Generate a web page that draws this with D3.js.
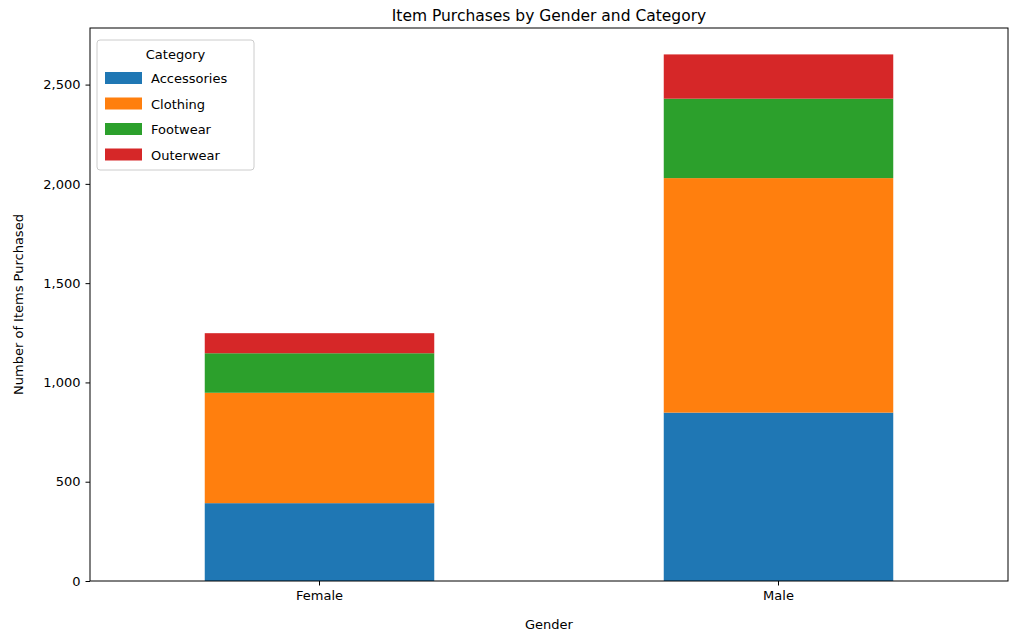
<!DOCTYPE html>
<html><head><meta charset="utf-8">
<script src="https://cdn.jsdelivr.net/npm/d3@7"></script>
<style>body{margin:0;background:#fff;font-family:"DejaVu Sans",sans-serif;}</style>
</head><body><svg id="c" width="1024" height="643"></svg>
<script>
const genders = ["Female","Male"];
const categories = ["Accessories","Clothing","Footwear","Outerwear"];
const accessories = [392, 848];
const clothing = [556, 1181];
const footwear = [199, 400];
const outerwear = [101, 223];
const yTicks = [0,500,1000,1500,2000,2500];
const colors = ["#1f77b4","#ff7f0e","#2ca02c","#d62728"];

const series = [accessories, clothing, footwear, outerwear];
const rows = genders.map((g,i)=>{const r={gender:g}; categories.forEach((c,j)=>r[c]=series[j][i]); return r;});
const stack = d3.stack().keys(categories)(rows);

const svg = d3.select("#c");
const L=90,R=1008,T=28,B=581;
const x = d3.scaleBand().domain(genders).range([L,R]).paddingInner(0.5).paddingOuter(0.25);
const y = d3.scaleLinear().domain([0,2785]).range([B,T]);

stack.forEach((s,j)=>{
  svg.append("g").attr("fill",colors[j]).selectAll("rect").data(s).join("rect")
   .attr("x",d=>x(d.data.gender)).attr("width",x.bandwidth())
   .attr("y",d=>y(d[1])).attr("height",d=>y(d[0])-y(d[1]));
});

const ax = svg.append("g").attr("transform",`translate(0,${B})`).call(d3.axisBottom(x).tickSize(4.5).tickPadding(5));
const ay = svg.append("g").attr("transform",`translate(${L},0)`).call(d3.axisLeft(y).tickValues(yTicks).tickSize(4.5).tickPadding(5));
[ax,ay].forEach(a=>{a.selectAll("text").attr("font-size",13).attr("fill","#000").attr("font-family","DejaVu Sans");a.select(".domain").remove();a.selectAll("line").attr("stroke","#000");});
svg.append("rect").attr("x",L).attr("y",T).attr("width",R-L).attr("height",B-T).attr("fill","none").attr("stroke","#000").attr("stroke-width",1);

svg.append("text").attr("x",(L+R)/2).attr("y",21).attr("text-anchor","middle").attr("font-size",15.5).text("Item Purchases by Gender and Category");
svg.append("text").attr("x",(L+R)/2).attr("y",629).attr("text-anchor","middle").attr("font-size",13).text("Gender");
svg.append("text").attr("transform",`translate(23,${(T+B)/2}) rotate(-90)`).attr("text-anchor","middle").attr("font-size",13).text("Number of Items Purchased");

const lg = svg.append("g").attr("transform","translate(97,40)");
lg.append("rect").attr("width",157).attr("height",130).attr("rx",3).attr("fill","#fff").attr("fill-opacity",0.8).attr("stroke","#ccc");
lg.append("text").attr("x",78.5).attr("y",19).attr("text-anchor","middle").attr("font-size",13).text("Category");
categories.forEach((c,j)=>{
  const g = lg.append("g").attr("transform",`translate(8,${32+j*25.5})`);
  g.append("rect").attr("width",37).attr("height",12).attr("fill",colors[j]);
  g.append("text").attr("x",46).attr("y",11).attr("font-size",13).text(c);
});
</script></body></html>
